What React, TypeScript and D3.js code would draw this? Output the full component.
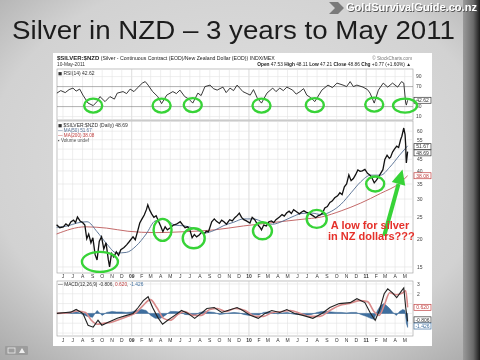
import React from "react";
import * as d3 from "d3";

// ---------- DATA ----------
const PRICE: [string, number][] = [
  ["2008-05-12", 23.1], ["2008-05-22", 22.4], ["2008-06-02", 22.6], ["2008-06-10", 23.3], ["2008-06-18", 22.8],
  ["2008-06-26", 23.8], ["2008-07-04", 24.2], ["2008-07-10", 23.6], ["2008-07-16", 25.0], ["2008-07-24", 24.0],
  ["2008-08-01", 23.6], ["2008-08-08", 23.0], ["2008-08-14", 20.0], ["2008-08-20", 21.0], ["2008-08-27", 19.2],
  ["2008-09-02", 20.2], ["2008-09-09", 17.0], ["2008-09-15", 16.1], ["2008-09-22", 19.5], ["2008-09-29", 20.4],
  ["2008-10-06", 18.0], ["2008-10-13", 19.2], ["2008-10-20", 16.2], ["2008-10-24", 15.0], ["2008-10-30", 17.2],
  ["2008-11-06", 16.6], ["2008-11-14", 17.5], ["2008-11-21", 16.9], ["2008-11-28", 17.9], ["2008-12-08", 18.3],
  ["2008-12-16", 18.8], ["2008-12-24", 19.4], ["2009-01-05", 20.4], ["2009-01-12", 19.8], ["2009-01-19", 21.5],
  ["2009-01-26", 23.5], ["2009-02-02", 24.5], ["2009-02-09", 25.5], ["2009-02-16", 27.0], ["2009-02-20", 28.3],
  ["2009-02-26", 26.8], ["2009-03-04", 25.8], ["2009-03-11", 24.9], ["2009-03-18", 25.3], ["2009-03-25", 24.0],
  ["2009-04-01", 22.8], ["2009-04-08", 21.5], ["2009-04-15", 22.6], ["2009-04-22", 21.9], ["2009-05-01", 22.4],
  ["2009-05-11", 23.0], ["2009-05-20", 23.2], ["2009-06-01", 23.8], ["2009-06-08", 23.1], ["2009-06-16", 22.4],
  ["2009-06-24", 22.6], ["2009-07-01", 21.9], ["2009-07-08", 20.2], ["2009-07-15", 20.9], ["2009-07-22", 20.4],
  ["2009-07-30", 20.8], ["2009-08-07", 21.4], ["2009-08-14", 21.0], ["2009-08-21", 21.6], ["2009-08-28", 21.5],
  ["2009-09-07", 23.8], ["2009-09-15", 24.5], ["2009-09-22", 23.9], ["2009-10-01", 23.4], ["2009-10-08", 24.2],
  ["2009-10-15", 23.8], ["2009-10-23", 23.2], ["2009-11-02", 24.3], ["2009-11-10", 24.0], ["2009-11-18", 24.8],
  ["2009-11-26", 25.4], ["2009-12-02", 26.0], ["2009-12-09", 24.9], ["2009-12-16", 24.3], ["2009-12-24", 24.0],
  ["2010-01-04", 23.5], ["2010-01-11", 24.9], ["2010-01-19", 24.3], ["2010-01-27", 23.2], ["2010-02-04", 22.5],
  ["2010-02-09", 21.9], ["2010-02-16", 23.0], ["2010-02-24", 22.8], ["2010-03-04", 23.8], ["2010-03-12", 24.0],
  ["2010-03-19", 23.6], ["2010-03-26", 24.3], ["2010-04-06", 25.0], ["2010-04-14", 25.6], ["2010-04-21", 25.2],
  ["2010-04-28", 26.0], ["2010-05-06", 26.5], ["2010-05-13", 25.9], ["2010-05-20", 26.9], ["2010-05-28", 26.4],
  ["2010-06-07", 25.8], ["2010-06-14", 26.3], ["2010-06-21", 26.6], ["2010-06-29", 26.2], ["2010-07-07", 26.0],
  ["2010-07-14", 25.6], ["2010-07-21", 25.2], ["2010-07-28", 24.8], ["2010-08-04", 25.3], ["2010-08-11", 25.5],
  ["2010-08-18", 26.0], ["2010-08-25", 27.4], ["2010-09-02", 27.8], ["2010-09-10", 29.0], ["2010-09-17", 29.4],
  ["2010-09-25", 30.4], ["2010-10-04", 31.0], ["2010-10-11", 32.0], ["2010-10-18", 31.4], ["2010-10-25", 34.0],
  ["2010-11-01", 35.0], ["2010-11-08", 38.4], ["2010-11-15", 36.2], ["2010-11-22", 37.0], ["2010-11-29", 38.5],
  ["2010-12-06", 40.4], ["2010-12-13", 39.8], ["2010-12-20", 40.0], ["2010-12-28", 40.6], ["2011-01-05", 39.0],
  ["2011-01-12", 38.4], ["2011-01-18", 37.5], ["2011-01-26", 35.4], ["2011-02-02", 36.4], ["2011-02-08", 37.5],
  ["2011-02-15", 39.0], ["2011-02-22", 40.5], ["2011-02-28", 45.0], ["2011-03-07", 47.0], ["2011-03-14", 45.5],
  ["2011-03-18", 46.0], ["2011-03-24", 48.5], ["2011-03-30", 50.0], ["2011-04-06", 51.5], ["2011-04-12", 50.8],
  ["2011-04-18", 55.0], ["2011-04-22", 57.0], ["2011-04-28", 62.0], ["2011-05-02", 58.0], ["2011-05-04", 52.0],
  ["2011-05-05", 46.0], ["2011-05-06", 43.4], ["2011-05-09", 47.3], ["2011-05-10", 48.69],
];

const MA50: [string, number][] = [
  ["2008-05-12", 22.5], ["2008-06-15", 22.8], ["2008-07-15", 23.5], ["2008-08-15", 23.8], ["2008-09-15", 21.5],
  ["2008-10-15", 19.0], ["2008-11-15", 17.3], ["2008-12-15", 17.4], ["2009-01-15", 18.6], ["2009-02-15", 21.0],
  ["2009-03-15", 24.0], ["2009-04-15", 24.4], ["2009-05-15", 23.0], ["2009-06-15", 22.8], ["2009-07-15", 22.2],
  ["2009-08-15", 21.2], ["2009-09-15", 21.8], ["2009-10-15", 22.9], ["2009-11-15", 23.7], ["2009-12-15", 24.5],
  ["2010-01-15", 24.5], ["2010-02-15", 23.7], ["2010-03-15", 23.2], ["2010-04-15", 23.9], ["2010-05-15", 25.0],
  ["2010-06-15", 25.9], ["2010-07-15", 26.0], ["2010-08-15", 25.6], ["2010-09-15", 26.5], ["2010-10-15", 28.5],
  ["2010-11-15", 32.0], ["2010-12-15", 35.8], ["2011-01-15", 38.3], ["2011-02-15", 38.3], ["2011-03-15", 41.5],
  ["2011-04-15", 47.0], ["2011-05-10", 51.67],
];

const MA200: [string, number][] = [
  ["2008-05-12", 21.0], ["2008-08-10", 22.6], ["2008-10-15", 22.3], ["2008-12-20", 21.6], ["2009-03-15", 21.3],
  ["2009-06-15", 21.5], ["2009-09-15", 21.9], ["2009-12-15", 22.8], ["2010-03-15", 23.6], ["2010-06-15", 24.4],
  ["2010-08-15", 25.0], ["2010-10-15", 26.6], ["2010-12-15", 28.8], ["2011-02-15", 31.8], ["2011-04-15", 35.3],
  ["2011-05-10", 38.08],
];

const RSI: [string, number][] = [
  ["2008-05-13", 57], ["2008-05-25", 62], ["2008-06-08", 58], ["2008-06-20", 64], ["2008-07-02", 67],
  ["2008-07-12", 61], ["2008-07-23", 65], ["2008-08-02", 53], ["2008-08-18", 37], ["2008-09-03", 32],
  ["2008-09-15", 40], ["2008-09-24", 50], ["2008-10-10", 40], ["2008-10-25", 50], ["2008-11-08", 45],
  ["2008-11-17", 57], ["2008-12-05", 60], ["2008-12-16", 56], ["2008-12-27", 65], ["2009-01-08", 60],
  ["2009-01-18", 67], ["2009-02-03", 77], ["2009-02-12", 80], ["2009-02-21", 73], ["2009-03-07", 60],
  ["2009-03-23", 50], ["2009-04-04", 36], ["2009-04-20", 53], ["2009-05-09", 60], ["2009-05-20", 56],
  ["2009-05-31", 63], ["2009-06-15", 50], ["2009-06-28", 45], ["2009-07-10", 37], ["2009-07-26", 57],
  ["2009-08-05", 52], ["2009-08-17", 70], ["2009-09-02", 73], ["2009-09-12", 66], ["2009-09-24", 63],
  ["2009-10-12", 69], ["2009-10-22", 58], ["2009-11-03", 67], ["2009-11-14", 62], ["2009-11-25", 73],
  ["2009-12-13", 60], ["2010-01-05", 53], ["2010-01-15", 64], ["2010-01-27", 47], ["2010-02-09", 37],
  ["2010-02-26", 57], ["2010-03-16", 67], ["2010-03-26", 60], ["2010-04-07", 67], ["2010-04-18", 62],
  ["2010-04-29", 69], ["2010-05-17", 63], ["2010-05-28", 55], ["2010-06-09", 60], ["2010-06-20", 66],
  ["2010-06-30", 53], ["2010-07-12", 48], ["2010-07-25", 40], ["2010-08-16", 63], ["2010-09-04", 73],
  ["2010-09-18", 68], ["2010-10-02", 77], ["2010-10-21", 73], ["2010-11-01", 70], ["2010-11-12", 80],
  ["2010-11-22", 70], ["2010-12-03", 73], ["2010-12-22", 69], ["2011-01-05", 64], ["2011-01-13", 57],
  ["2011-01-26", 37], ["2011-02-08", 63], ["2011-02-23", 77], ["2011-03-09", 69], ["2011-03-24", 77],
  ["2011-04-09", 69], ["2011-04-21", 80], ["2011-04-28", 77], ["2011-05-04", 37], ["2011-05-06", 33],
  ["2011-05-10", 42.62],
];

const MACD: [string, number][] = [
  ["2008-05-13", 0.0], ["2008-06-10", 0.1], ["2008-06-25", 0.13], ["2008-07-12", 0.4], ["2008-08-02", 0.0],
  ["2008-08-18", -1.2], ["2008-09-03", -1.4], ["2008-09-18", -0.7], ["2008-09-30", -1.2], ["2008-10-20", -0.9],
  ["2008-11-17", -0.5], ["2008-12-16", -0.2], ["2009-01-05", 0.0], ["2009-01-21", 0.6], ["2009-02-06", 1.3],
  ["2009-02-21", 1.7], ["2009-03-07", 0.6], ["2009-03-23", -0.4], ["2009-04-07", -1.1], ["2009-04-23", -0.7],
  ["2009-05-15", -0.2], ["2009-06-05", 0.3], ["2009-06-25", 0.0], ["2009-07-16", -0.5], ["2009-08-05", 0.0],
  ["2009-08-23", 0.5], ["2009-09-15", 0.6], ["2009-10-08", 0.1], ["2009-10-27", 0.3], ["2009-11-25", 0.6],
  ["2009-12-13", 0.3], ["2010-01-05", -0.2], ["2010-01-30", -0.5], ["2010-02-20", 0.0], ["2010-03-13", 0.3],
  ["2010-04-07", 0.1], ["2010-04-29", 0.4], ["2010-05-23", 0.0], ["2010-06-18", -0.2], ["2010-07-19", -0.5],
  ["2010-08-16", 0.0], ["2010-09-10", 0.6], ["2010-10-09", 1.0], ["2010-11-12", 1.1], ["2010-12-03", 1.5],
  ["2010-12-28", 1.1], ["2011-01-13", 0.1], ["2011-01-29", -0.7], ["2011-02-11", 0.3], ["2011-02-26", 2.0],
  ["2011-03-09", 2.5], ["2011-03-24", 2.1], ["2011-04-06", 1.6], ["2011-04-21", 2.3], ["2011-04-28", 2.6],
  ["2011-05-04", 0.6], ["2011-05-10", -0.806],
];

const SIGNAL: [string, number][] = [
  ["2008-05-13", 0.0], ["2008-06-15", 0.05], ["2008-07-15", 0.25], ["2008-08-10", 0.1], ["2008-08-28", -0.7],
  ["2008-09-15", -1.1], ["2008-10-05", -1.0], ["2008-10-30", -0.9], ["2008-11-25", -0.6], ["2008-12-20", -0.3],
  ["2009-01-15", 0.1], ["2009-02-05", 0.8], ["2009-02-28", 1.4], ["2009-03-20", 0.6], ["2009-04-10", -0.5],
  ["2009-05-01", -0.7], ["2009-05-25", -0.1], ["2009-06-15", 0.2], ["2009-07-10", -0.2], ["2009-08-05", -0.2],
  ["2009-09-01", 0.4], ["2009-09-25", 0.5], ["2009-10-20", 0.2], ["2009-11-20", 0.5], ["2009-12-20", 0.3],
  ["2010-01-20", -0.3], ["2010-02-15", -0.3], ["2010-03-15", 0.1], ["2010-04-15", 0.2], ["2010-05-10", 0.3],
  ["2010-06-10", 0.0], ["2010-07-10", -0.3], ["2010-08-10", -0.3], ["2010-09-10", 0.3], ["2010-10-10", 0.8],
  ["2010-11-10", 1.0], ["2010-12-10", 1.3], ["2011-01-05", 1.2], ["2011-01-25", 0.2], ["2011-02-10", -0.2],
  ["2011-02-28", 1.0], ["2011-03-15", 2.1], ["2011-04-05", 1.9], ["2011-04-25", 2.1], ["2011-05-04", 2.3],
  ["2011-05-10", 0.62],
];

const HIST: [string, number][] = [
  ["2008-05-15", 0.0], ["2008-06-01", 0.05], ["2008-06-15", 0.1], ["2008-07-01", 0.1], ["2008-07-15", 0.15],
  ["2008-08-01", -0.1], ["2008-08-15", -0.3], ["2008-09-01", -0.4], ["2008-09-15", 0.3], ["2008-10-01", -0.2],
  ["2008-10-15", 0.1], ["2008-11-01", 0.2], ["2008-11-15", 0.15], ["2008-12-01", 0.15], ["2008-12-15", 0.1],
  ["2009-01-01", 0.15], ["2009-01-15", 0.3], ["2009-02-01", 0.4], ["2009-02-15", 0.3], ["2009-03-01", -0.2],
  ["2009-03-15", -0.5], ["2009-04-01", -0.5], ["2009-04-15", -0.2], ["2009-05-01", 0.2], ["2009-05-15", 0.2],
  ["2009-06-01", 0.15], ["2009-06-15", -0.1], ["2009-07-01", -0.15], ["2009-07-15", -0.2], ["2009-08-01", 0.1],
  ["2009-08-15", 0.2], ["2009-09-01", 0.15], ["2009-09-15", 0.1], ["2009-10-01", -0.1], ["2009-10-15", -0.05],
  ["2009-11-01", 0.05], ["2009-11-15", 0.1], ["2009-12-01", 0.05], ["2009-12-15", -0.1], ["2010-01-01", -0.2],
  ["2010-01-15", -0.1], ["2010-02-01", -0.15], ["2010-02-15", 0.1], ["2010-03-01", 0.15], ["2010-03-15", 0.1],
  ["2010-04-01", -0.05], ["2010-04-15", 0.05], ["2010-05-01", 0.1], ["2010-05-15", -0.05], ["2010-06-01", -0.1],
  ["2010-06-15", -0.1], ["2010-07-01", -0.15], ["2010-07-15", -0.1], ["2010-08-01", 0.1], ["2010-08-15", 0.2],
  ["2010-09-01", 0.2], ["2010-09-15", 0.15], ["2010-10-01", 0.1], ["2010-10-15", 0.1], ["2010-11-01", 0.05],
  ["2010-11-15", 0.1], ["2010-12-01", 0.1], ["2010-12-15", -0.1], ["2011-01-01", -0.3], ["2011-01-15", -0.5],
  ["2011-01-25", -0.6], ["2011-02-05", 0.3], ["2011-02-15", 0.8], ["2011-02-25", 1.0], ["2011-03-05", 0.8],
  ["2011-03-15", 0.5], ["2011-03-25", 0.1], ["2011-04-05", -0.2], ["2011-04-15", 0.2], ["2011-04-25", 0.4],
  ["2011-05-02", 0.3], ["2011-05-06", -1.0], ["2011-05-10", -1.426],
];

const MONTH_LABELS = ["J", "J", "A", "S", "O", "N", "D", "09", "F", "M", "A", "M", "J", "J", "A", "S", "O", "N", "D", "10",
  "F", "M", "A", "M", "J", "J", "A", "S", "O", "N", "D", "11", "F", "M", "A", "M"];
const PRICE_TICKS = [15, 20, 25, 30, 35, 40, 45, 50, 55, 60];
const PRICE_LABELS = [15, 20, 25, 30, 35, 40, 45, 55, 60];
const RSI_TICKS = [10, 30, 50, 70, 90];
const RSI_LABELS = [10, 30, 70, 90];
const MACD_TICKS = [-2, -1, 0, 1, 2, 3];
const MACD_LABELS = [2, 3];

// annotations (date, value) in data space
const RSI_CIRCLES: [string, number, number][] = [
  ["2008-09-03", 32, 9], ["2009-04-04", 32, 9], ["2009-07-10", 33, 9], ["2010-02-09", 32, 9],
  ["2010-07-25", 33, 9], ["2011-01-26", 34, 9], ["2011-05-02", 32, 12],
];
const PRICE_CIRCLES: [string, number, number, number][] = [
  ["2008-09-24", 15.8, 18, 10], ["2009-04-07", 21.9, 9, 11], ["2009-07-13", 20.1, 11, 10],
  ["2010-02-12", 21.7, 9.5, 8.5], ["2010-07-31", 24.5, 10, 9], ["2011-01-29", 35.0, 9, 7.5],
];
const ARROW: [string, number][] = [["2011-02-26", 20.6], ["2011-04-24", 40.6]];
const NOTE_LINES: [string, string, number][] = [
  ["A low for silver", "2011-01-13", 22.1], ["in NZ dollars???", "2011-01-17", 19.7],
];

// ---------- LAYOUT ----------
const W = 480, H = 360;
const L = 57, R = 413;
const RSI_T = 69, RSI_B = 120;
const P_T = 121, P_B = 273;
const M_T = 281, M_B = 336;
const FONT = "Liberation Sans, Arial, sans-serif";

const parse = d3.utcParse("%Y-%m-%d");
const x = d3.scaleUtc()
  .domain([new Date(Date.UTC(2008, 5, 1)), new Date(Date.UTC(2011, 5, 1))])
  .range([63, 414.7]);
const yRsi = d3.scaleLinear().domain([0, 100]).range([121.6, 71.6]);
const yPrice = d3.scaleLog().domain([14.1, 66.6]).range([P_B, P_T]);
const yMacd = d3.scaleLinear().domain([-2.3, 3.3]).range([M_B, M_T]);

const months = d3.utcMonth.range(new Date(Date.UTC(2008, 5, 1)), new Date(Date.UTC(2011, 5, 1)));

function lineOf(data: [string, number][], y: (v: number) => number, curve: any = d3.curveLinear) {
  return d3.line<[string, number]>().x(d => x(parse(d[0])!)).y(d => y(d[1])).curve(curve)(data) || "";
}

const Box = ({ cx, cy, text, color }: { cx: number; cy: number; text: string; color: string }) => (
  <g>
    <rect x={cx} y={cy - 3} width={17} height={6} fill="white" stroke={color} strokeWidth={0.7} />
    <text x={cx + 8.5} y={cy + 1.8} fontSize={5} textAnchor="middle" fill={color} fontFamily={FONT}>{text}</text>
  </g>
);

export default function App() {
  const histArea = d3.area<[string, number]>()
    .x(d => x(parse(d[0])!)).y0(yMacd(0)).y1(d => yMacd(d[1]))(HIST) || "";

  const a0 = [x(parse(ARROW[0][0])!), yPrice(ARROW[0][1])];
  const a1 = [x(parse(ARROW[1][0])!), yPrice(ARROW[1][1])];
  const dx = a1[0] - a0[0], dy = a1[1] - a0[1];
  const len = Math.hypot(dx, dy);
  const ux = dx / len, uy = dy / len;
  const headLen = 15, headW = 7;
  const base = [a1[0] - ux * headLen, a1[1] - uy * headLen];
  const head = `M${a1[0]},${a1[1]} L${base[0] - uy * headW},${base[1] + ux * headW} L${base[0] + uy * headW},${base[1] - ux * headW} Z`;

  const panelGrid = (top: number, bottom: number, key: string) =>
    months.map((m, i) => (
      <line key={key + i} x1={x(m)} x2={x(m)} y1={top} y2={bottom}
        stroke={MONTH_LABELS[i].length > 1 ? "#c4c4c4" : "#e2e2e2"} strokeWidth={0.6} />
    ));

  const monthRow = (yy: number, key: string) =>
    months.map((m, i) => (
      <text key={key + i} x={x(m)} y={yy} fontSize={5} textAnchor="middle" fontFamily={FONT}
        fontWeight={MONTH_LABELS[i].length > 1 ? "bold" : "normal"} fill="#333">{MONTH_LABELS[i]}</text>
    ));

  return (
    <svg width={W} height={H} style={{ position: "fixed", left: 0, top: 0 }} xmlns="http://www.w3.org/2000/svg">
      <defs>
        <radialGradient id="bg" cx="0.5" cy="0.45" r="0.75">
          <stop offset="0" stopColor="#e2e2e2" />
          <stop offset="0.7" stopColor="#d2d2d2" />
          <stop offset="1" stopColor="#a8a8a8" />
        </radialGradient>
        <linearGradient id="edge" x1="0" x2="1" y1="0" y2="0">
          <stop offset="0" stopColor="#9a9a9a" />
          <stop offset="0.6" stopColor="#6a6a6a" />
          <stop offset="1" stopColor="#1a1a1a" />
        </linearGradient>
      </defs>
      <rect x={0} y={0} width={W} height={H} fill="url(#bg)" />
      <rect x={463} y={0} width={17} height={H} fill="url(#edge)" />

      {/* logo */}
      <path d="M329,2 L338,2 L344,8 L338,14 L329,14 L335,8 Z" fill="#7a7a7a" />
      <text x={346.8} y={11.8} fontSize={10.5} fontWeight="bold" fontFamily={FONT} fill="#555"
        textLength={131} lengthAdjust="spacingAndGlyphs">GoldSurvivalGuide.co.nz</text>
      <text x={346} y={11} fontSize={10.5} fontWeight="bold" fontFamily={FONT} fill="white"
        textLength={131} lengthAdjust="spacingAndGlyphs">GoldSurvivalGuide.co.nz</text>

      {/* title */}
      <text x={12} y={38.5} fontSize={25} fontFamily={FONT} fill="#1c1c1c"
        textLength={443} lengthAdjust="spacingAndGlyphs">Silver in NZD – 3 years to May 2011</text>

      {/* chart card */}
      <rect x={53} y={53} width={379} height={293} fill="white" />

      {/* header */}
      <text x={57} y={59.5} fontSize={5.2} fontFamily={FONT} fill="#222">
        <tspan fontWeight="bold" fontSize={6}>$SILVER:$NZD</tspan>
        <tspan> (Silver - Continuous Contract (EOD)/New Zealand Dollar (EOD)) INDX/MEX</tspan>
      </text>
      <text x={412} y={59.5} fontSize={4.6} fontFamily={FONT} fill="#777" textAnchor="end">© StockCharts.com</text>
      <text x={57} y={65.5} fontSize={4.8} fontFamily={FONT} fill="#333">10-May-2011</text>
      <text x={411} y={66} fontSize={4.8} fontFamily={FONT} fill="#222" textAnchor="end">
        <tspan fontWeight="bold">Open</tspan> 47.53 <tspan fontWeight="bold">High</tspan> 48.11 <tspan fontWeight="bold">Low</tspan> 47.21 <tspan fontWeight="bold">Close</tspan> 48.86 <tspan fontWeight="bold">Chg</tspan> +0.77 (+1.60%) ▲
      </text>

      {/* RSI panel */}
      <rect x={L} y={RSI_T} width={R - L} height={RSI_B - RSI_T} fill="white" stroke="#9a9a9a" strokeWidth={0.6} />
      {panelGrid(RSI_T, RSI_B, "rg")}
      {RSI_TICKS.map(t => (
        <line key={"rt" + t} x1={L} x2={R} y1={yRsi(t)} y2={yRsi(t)}
          stroke={t === 30 || t === 70 ? "#7a7a7a" : "#e2e2e2"} strokeWidth={0.6} />
      ))}
      <path d={lineOf(RSI, yRsi)} fill="none" stroke="#222" strokeWidth={0.9} />
      {RSI_LABELS.map(t => (
        <text key={"rl" + t} x={416} y={yRsi(t) + 1.8} fontSize={5} fontFamily={FONT} fill="#444">{t}</text>
      ))}
      <Box cx={414} cy={yRsi(42.62)} text="42.62" color="#333" />
      <text x={58} y={74.5} fontSize={5} fontFamily={FONT} fill="#333">◼ RSI(14) 42.62</text>

      {/* Price panel */}
      <rect x={L} y={P_T} width={R - L} height={P_B - P_T} fill="white" stroke="#9a9a9a" strokeWidth={0.6} />
      {panelGrid(P_T, P_B, "pg")}
      {PRICE_TICKS.map(t => (
        <line key={"pt" + t} x1={L} x2={R} y1={yPrice(t)} y2={yPrice(t)} stroke="#e2e2e2" strokeWidth={0.6} />
      ))}
      <path d={lineOf(MA200, yPrice, d3.curveMonotoneX)} fill="none" stroke="#c46a6a" strokeWidth={1} />
      <path d={lineOf(MA50, yPrice, d3.curveMonotoneX)} fill="none" stroke="#4f6a8f" strokeWidth={0.9} />
      <path d={lineOf(PRICE, yPrice)} fill="none" stroke="#111" strokeWidth={1.3} />
      {PRICE_LABELS.map(t => (
        <text key={"pl" + t} x={417} y={yPrice(t) + 1.8} fontSize={5} fontFamily={FONT} fill="#444">{t}</text>
      ))}
      <Box cx={414} cy={yPrice(51.67) + 0.8} text="51.67" color="#333" />
      <Box cx={414} cy={yPrice(51.67) + 7} text="48.69" color="#333" />
      <Box cx={414} cy={yPrice(38.08)} text="38.08" color="#c04040" />
      <text x={58} y={127} fontSize={5} fontFamily={FONT} fill="#333">◼ $SILVER:$NZD (Daily) 48.69</text>
      <text x={58} y={132} fontSize={4.6} fontFamily={FONT} fill="#4f6a8f">— MA(50) 51.67</text>
      <text x={58} y={137} fontSize={4.6} fontFamily={FONT} fill="#c04040">— MA(200) 38.08</text>
      <text x={58} y={142} fontSize={4.6} fontFamily={FONT} fill="#555">▪ Volume undef</text>

      {monthRow(278, "m1")}

      {/* MACD panel */}
      <rect x={L} y={M_T} width={R - L} height={M_B - M_T} fill="white" stroke="#9a9a9a" strokeWidth={0.6} />
      {panelGrid(M_T, M_B, "mg")}
      {MACD_TICKS.map(t => (
        <line key={"mt" + t} x1={L} x2={R} y1={yMacd(t)} y2={yMacd(t)} stroke="#e2e2e2" strokeWidth={0.6} />
      ))}
      <path d={histArea} fill="#3f6f9f" stroke="#2f5f8f" strokeWidth={0.5} />
      <path d={lineOf(SIGNAL, yMacd, d3.curveMonotoneX)} fill="none" stroke="#d98a8a" strokeWidth={1.6} />
      <path d={lineOf(MACD, yMacd)} fill="none" stroke="#222" strokeWidth={1.1} />
      {MACD_LABELS.map(t => (
        <text key={"ml" + t} x={417} y={yMacd(t) + 1.8} fontSize={5} fontFamily={FONT} fill="#444">{t}</text>
      ))}
      <Box cx={414} cy={yMacd(0.62)} text="0.620" color="#c04040" />
      <Box cx={414} cy={yMacd(-0.806) - 1.5} text="-0.806" color="#333" />
      <Box cx={414} cy={yMacd(-0.806) + 4.7} text="-1.426" color="#3f6f9f" />
      <text x={58} y={286} fontSize={4.8} fontFamily={FONT} fill="#333">
        — MACD(12,26,9) -0.806, <tspan fill="#c04040">0.620</tspan>, <tspan fill="#3f6f9f">-1.426</tspan>
      </text>

      {monthRow(342, "m2")}

      {/* annotations */}
      {RSI_CIRCLES.map((c, i) => (
        <ellipse key={"rc" + i} cx={x(parse(c[0])!)} cy={yRsi(c[1])} rx={c[2]} ry={7}
          fill="none" stroke="#37d337" strokeWidth={2.4} />
      ))}
      {PRICE_CIRCLES.map((c, i) => (
        <ellipse key={"pc" + i} cx={x(parse(c[0])!)} cy={yPrice(c[1])} rx={c[2]} ry={c[3]}
          fill="none" stroke="#37d337" strokeWidth={2.4} />
      ))}
      <line x1={a0[0]} y1={a0[1]} x2={base[0]} y2={base[1]} stroke="#37d337" strokeWidth={4} />
      <path d={head} fill="#37d337" />
      {NOTE_LINES.map((n, i) => (
        <text key={"nl" + i} x={x(parse(n[1])!)} y={yPrice(n[2])} fontSize={11} fontWeight="bold"
          fontFamily={FONT} fill="#e5302a" textAnchor="middle">{n[0]}</text>
      ))}

      {/* bottom-left control */}
      <rect x={5} y={346} width={23} height={9} rx={1} fill="#9c9c9c" />
      <rect x={8} y={348} width={7} height={5} fill="none" stroke="#eee" strokeWidth={0.8} />
      <path d="M19,353 L22,348 L25,353 Z" fill="#eee" />
    </svg>
  );
}
